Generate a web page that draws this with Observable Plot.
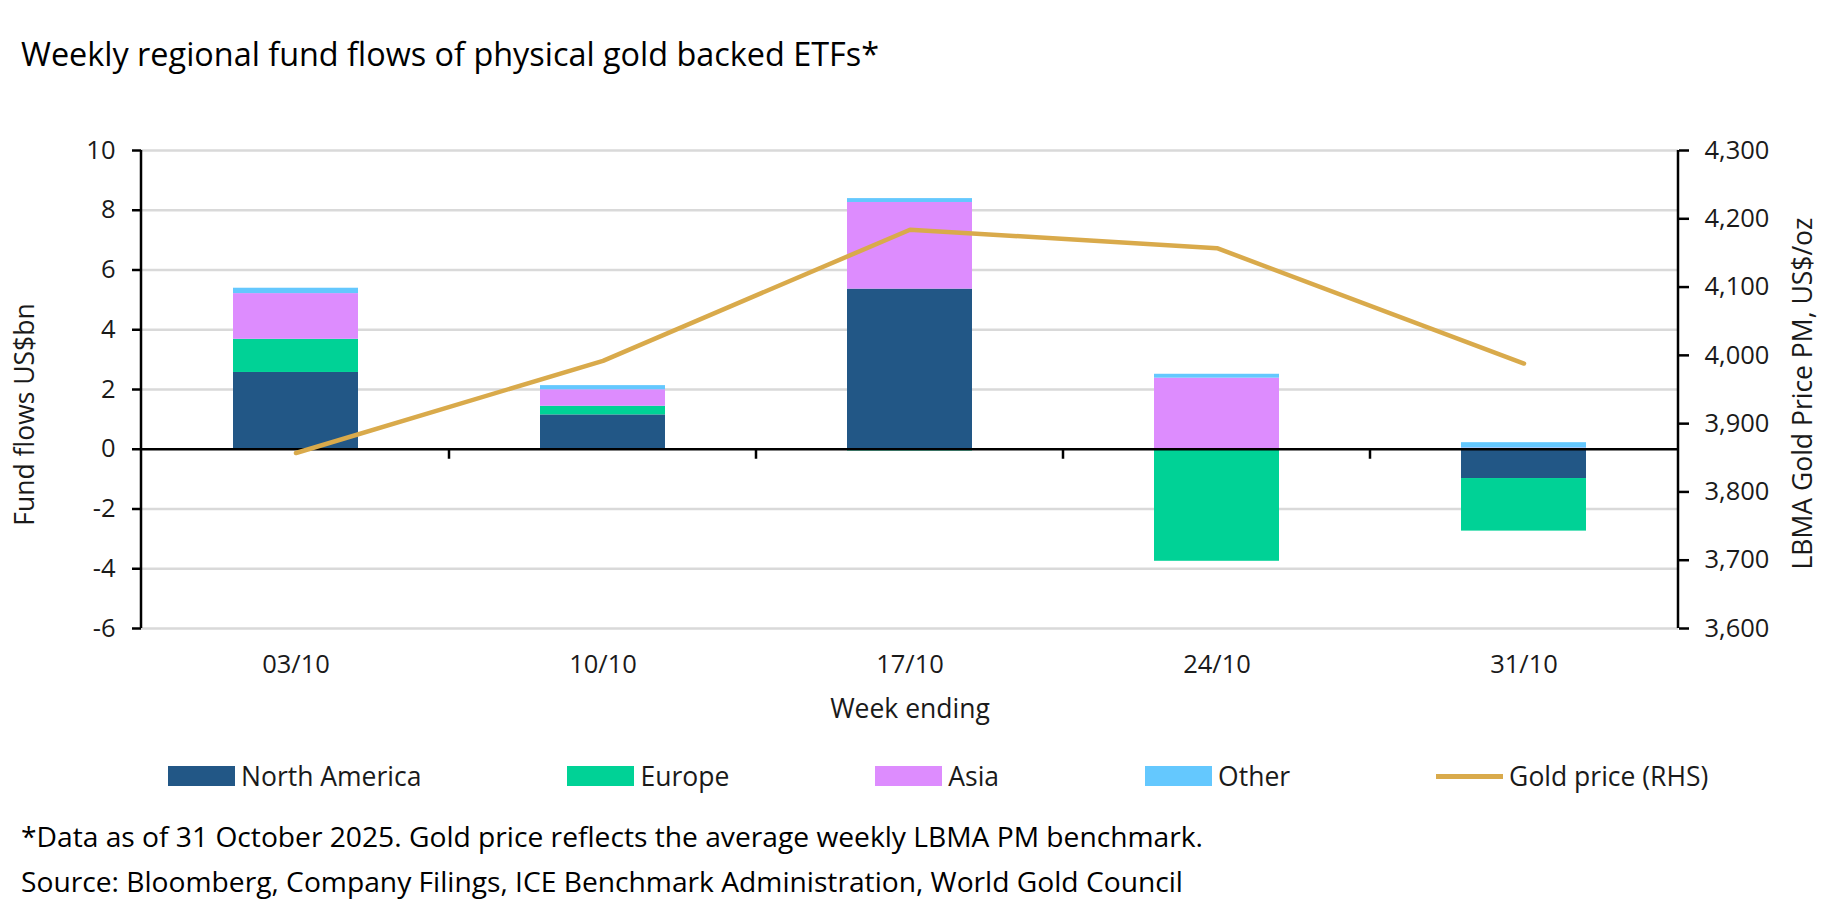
<!DOCTYPE html>
<html>
<head>
<meta charset="utf-8">
<script src="https://cdn.jsdelivr.net/npm/d3@7"></script>
<script src="https://cdn.jsdelivr.net/npm/@observablehq/plot@0.6"></script>
<style>
  body { margin: 0; background: #fff; font-family: "Open Sans", sans-serif; color: #1a1a1a; }
  #wrap { position: relative; width: 1834px; height: 910px; overflow: hidden; background: #fff; }
  #title { position: absolute; left: 21px; top: 32px; font-size: 32.4px; line-height: 42px; color: #000; white-space: nowrap; }
  #chart { position: absolute; left: 0; top: 100px; }
  #legend { position: absolute; left: 168px; top: 760px; display: flex; gap: 146px; font-size: 26.5px; line-height: 32px; align-items: center; color: #1a1a1a; }
  .item { display: flex; align-items: center; gap: 6px; white-space: nowrap; }
  .sw { width: 67px; height: 20px; }
  .ln { width: 67px; height: 5px; }
  .note { position: absolute; left: 21px; font-size: 28.2px; line-height: 34px; color: #000; white-space: nowrap; }
</style>
</head>
<body>
<div id="wrap">
  <div id="title"></div>
  <div id="chart"></div>
  <div id="legend"></div>
  <div class="note" id="note1" style="top:819px"></div>
  <div class="note" id="note2" style="top:864px"></div>
</div>
<script>
// ---- data ----
const titleText = "Weekly regional fund flows of physical gold backed ETFs*";
const weeks = ["03/10", "10/10", "17/10", "24/10", "31/10"];
const regions = ["North America", "Europe", "Asia", "Other"];
const northAmerica = [2.57, 1.15, 5.36, 0.00, -0.98];
const europe       = [1.11, 0.29, -0.06, -3.75, -1.76];
const asia         = [1.53, 0.55, 2.90, 2.38, 0.04];
const other        = [0.18, 0.14, 0.13, 0.13, 0.18];
const goldPrice    = [3857, 3992, 4184, 4157, 3988];
const flowTicks  = [-6, -4, -2, 0, 2, 4, 6, 8, 10];
const priceTicks = [3600, 3700, 3800, 3900, 4000, 4100, 4200, 4300];
const regionColors = ["#225786", "#00D296", "#DD8CFE", "#64C8FE"];
const goldColor = "#D9AA4B";
const goldLabel = "Gold price (RHS)";
const yLabel = "Fund flows US$bn";
const y2Label = "LBMA Gold Price PM, US$/oz";
const xLabel = "Week ending";
const note1 = "*Data as of 31 October 2025. Gold price reflects the average weekly LBMA PM benchmark.";
const note2 = "Source: Bloomberg, Company Filings, ICE Benchmark Administration, World Gold Council";

// ---- derived tables ----
const series = [northAmerica, europe, asia, other];
const flows = [];
regions.forEach((r, i) => weeks.forEach((w, j) => flows.push({week: w, region: r, value: series[i][j]})));

const fMin = d3.min(flowTicks), fMax = d3.max(flowTicks);
const pMin = d3.min(priceTicks), pMax = d3.max(priceTicks);
const toY = p => fMin + (p - pMin) / (pMax - pMin) * (fMax - fMin);
const toP = y => pMin + (y - fMin) / (fMax - fMin) * (pMax - pMin);
const gold = weeks.map((w, j) => ({week: w, y: toY(goldPrice[j])}));

const padInner = 0.594, padOuter = 0.297;
const axisFont = 25.5;
const titleFont = 26.5;

function frameLines(index, scales, values, dims) {
  const x = scales.x, y = scales.y;
  const g = d3.create("svg:g").attr("stroke", "#000").attr("stroke-width", 2.5).attr("fill", "none");
  const left = dims.marginLeft, right = dims.width - dims.marginRight;
  const top = dims.marginTop, bottom = dims.height - dims.marginBottom;
  g.append("line").attr("x1", left).attr("x2", left).attr("y1", top).attr("y2", bottom);
  g.append("line").attr("x1", right).attr("x2", right).attr("y1", top).attr("y2", bottom);
  const bw = typeof x.bandwidth === "function" ? x.bandwidth() : 0;
  for (let i = 1; i < weeks.length; i++) {
    const bx = (x(weeks[i - 1]) + bw + x(weeks[i])) / 2;
    g.append("line").attr("x1", bx).attr("x2", bx).attr("y1", y(0)).attr("y2", y(0) + 10);
  }
  return g.node();
}

const chart = Plot.plot({
  width: 1834,
  height: 640,
  marginTop: 50,
  marginBottom: 112,
  marginLeft: 141,
  marginRight: 156,
  style: {fontFamily: "Open Sans, sans-serif", fontSize: axisFont + "px", color: "#1a1a1a", background: "transparent", overflow: "visible"},
  x: {type: "band", domain: weeks, paddingInner: padInner, paddingOuter: padOuter, align: 0.5},
  y: {domain: [fMin, fMax]},
  color: {domain: regions, range: regionColors},
  marks: [
    Plot.ruleY(flowTicks.filter(d => d !== 0), {stroke: "#d9d9d9", strokeWidth: 2.5}),
    Plot.barY(flows, {x: "week", y: "value", fill: "region", order: regions}),
    Plot.ruleY([0], {stroke: "#000", strokeWidth: 2.5}),
    Plot.line(gold, {x: "week", y: "y", stroke: goldColor, strokeWidth: 4.5}),
    frameLines,
    Plot.axisY(flowTicks, {anchor: "left", tickSize: 9, tickPadding: 17, label: null, strokeWidth: 2.5, stroke: "#000", fontSize: axisFont,
      tickFormat: v => String(v)}),
    Plot.axisY(priceTicks.map(toY), {anchor: "right", tickSize: 10, tickPadding: 16, label: null, strokeWidth: 2.5, stroke: "#000", fontSize: axisFont,
      tickFormat: v => d3.format(",")(Math.round(toP(v)))}),
    Plot.axisX({anchor: "bottom", tickSize: 0, tickPadding: 26, label: null, fontSize: axisFont}),
    Plot.text([yLabel], {frameAnchor: "left", textAnchor: "middle", dx: -116, dy: 25, rotate: -90, fontSize: titleFont}),
    Plot.text([y2Label], {frameAnchor: "right", textAnchor: "middle", dx: 125, dy: 4, rotate: -90, fontSize: titleFont}),
    Plot.text([xLabel], {frameAnchor: "bottom", textAnchor: "middle", dy: 89, fontSize: titleFont})
  ]
});
document.getElementById("chart").appendChild(chart);

// ---- title, legend, notes ----
document.getElementById("title").textContent = titleText;
const legend = document.getElementById("legend");
regions.forEach((r, i) => {
  const it = document.createElement("div");
  it.className = "item";
  it.innerHTML = `<div class="sw" style="background:${regionColors[i]}"></div><span></span>`;
  it.querySelector("span").textContent = r;
  legend.appendChild(it);
});
{
  const it = document.createElement("div");
  it.className = "item";
  it.innerHTML = `<div class="ln" style="background:${goldColor}"></div><span></span>`;
  it.querySelector("span").textContent = goldLabel;
  legend.appendChild(it);
}
document.getElementById("note1").textContent = note1;
document.getElementById("note2").textContent = note2;
</script>
</body>
</html>
